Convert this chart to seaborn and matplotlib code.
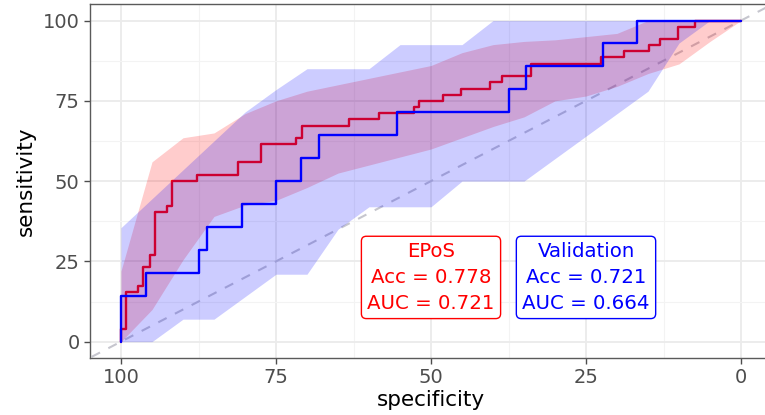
import matplotlib
matplotlib.use("Agg")
import matplotlib.pyplot as plt
import seaborn as sns
import pandas as pd

# ROC step curves: specificity (%) and sensitivity (%) at each vertex
epos_spec = [100, 100, 99.2, 97.2, 96.4, 95.3, 94.5, 92.6, 91.7, 87.8, 81.2, 77.4,
             71.8, 70.8, 63.2, 58.4, 52.7, 51.9, 48.0, 45.2, 40.5, 38.6, 33.9,
             22.6, 18.8, 14.9, 13.1, 10.2, 7.4, 0]
epos_sens = [0, 3.8, 15.4, 17.3, 23.1, 26.9, 40.4, 42.3, 50.0, 51.9, 55.8, 61.5,
             63.5, 67.3, 69.2, 71.2, 73.1, 75.0, 76.9, 78.8, 80.8, 82.7, 86.5,
             88.5, 90.4, 92.3, 94.2, 98.1, 100, 100]

val_spec = [100, 100, 96.0, 87.5, 86.2, 80.5, 75.0, 70.9, 68.1, 55.5, 37.4, 34.7,
            22.2, 16.7, 0]
val_sens = [0, 14.3, 21.4, 28.6, 35.7, 42.9, 50.0, 57.1, 64.3, 71.4, 78.6, 85.7,
            92.9, 100, 100]

# Confidence bands of sensitivity on a specificity grid
ci_spec = [100, 95, 90, 85, 80, 75, 70, 65, 60, 55, 50, 45, 40, 35, 30, 25, 20,
           15, 10, 5, 0]
epos_lo = [0, 10, 25.5, 39, 42.5, 44, 48, 52.5, 55, 57.5, 60, 63.5, 67, 70, 75,
           76.5, 79.5, 83.5, 86.5, 93.5, 100]
epos_hi = [22, 56, 63.5, 65, 71, 75, 78, 80, 82, 84, 86, 90, 92.5, 93.5, 94, 95,
           96, 100, 100, 100, 100]
val_lo = [0, 0, 7, 7, 14, 21, 21, 35, 42, 42, 42, 50, 50, 50, 57, 64, 71, 78, 93,
          100, 100]
val_hi = [35.5, 44.5, 53.5, 62.5, 71.5, 78.5, 85, 85, 85, 92.5, 92.5, 92.5, 100,
          100, 100, 100, 100, 100, 100, 100, 100]

ticks = [0, 25, 50, 75, 100]
minor_ticks = [12.5, 37.5, 62.5, 87.5]

epos_label = "EPoS\nAcc = 0.778\nAUC = 0.721"
val_label = "Validation\nAcc = 0.721\nAUC = 0.664"

sns.set_theme(style="white")
plt.rcParams["font.family"] = ["DejaVu Sans"]

fig = plt.figure(figsize=(7.65, 4.15), dpi=100)
ax = fig.add_axes([90 / 765, (415 - 357.7) / 415, (772 - 90) / 765,
                   (357.7 - 4.5) / 415])

# grid
ax.set_xticks(ticks)
ax.set_yticks(ticks)
ax.set_xticks(minor_ticks, minor=True)
ax.set_yticks(minor_ticks, minor=True)
ax.grid(True, which="major", color="#EBEBEB", linewidth=1.3, zorder=0)
ax.grid(True, which="minor", color="#F3F3F3", linewidth=0.8, zorder=0)
ax.set_axisbelow(True)

# chance diagonal
ax.axline((0, 100), (100, 0), color="#C6C6CE", linewidth=1.5,
          linestyle=(0, (4.5, 4.5)), zorder=1)

red_df = pd.DataFrame({"specificity": epos_spec, "sensitivity": epos_sens})
blue_df = pd.DataFrame({"specificity": val_spec, "sensitivity": val_sens})

ax.fill_between(ci_spec, epos_lo, epos_hi, color="red", alpha=0.2,
                linewidth=0, zorder=2)
sns.lineplot(data=red_df, x="specificity", y="sensitivity", sort=False,
             estimator=None, drawstyle="steps-post", color="red",
             linewidth=1.7, ax=ax, zorder=3)
ax.fill_between(ci_spec, val_lo, val_hi, color="blue", alpha=0.2,
                linewidth=0, zorder=4)
sns.lineplot(data=blue_df, x="specificity", y="sensitivity", sort=False,
             estimator=None, drawstyle="steps-post", color="blue",
             linewidth=1.7, ax=ax, zorder=5)

for xpos, label, col in [(50, epos_label, "red"), (25, val_label, "blue")]:
    ax.text(xpos, 20, label, color=col, fontsize=14.2, ha="center", va="center",
            linespacing=1.45, zorder=6,
            bbox=dict(boxstyle="round,pad=0.3,rounding_size=0.25",
                      facecolor="white", edgecolor=col, linewidth=1.0))

ax.set_xlim(105, -5)
ax.set_ylim(-5, 105)

for side in ["left", "bottom", "top", "right"]:
    ax.spines[side].set_color("#5A5A5A")
    ax.spines[side].set_linewidth(1.0)

ax.tick_params(axis="both", which="major", length=4.5, width=1.0,
               color="#4D4D4D", labelcolor="#4D4D4D", labelsize=14, pad=3,
               bottom=True, left=True)
ax.tick_params(axis="both", which="minor", length=0)
ax.set_xlabel("specificity", fontsize=15.5, color="black", labelpad=2)
ax.set_ylabel("sensitivity", fontsize=15.5, color="black", labelpad=5)

fig.savefig("out.png", dpi=100)
